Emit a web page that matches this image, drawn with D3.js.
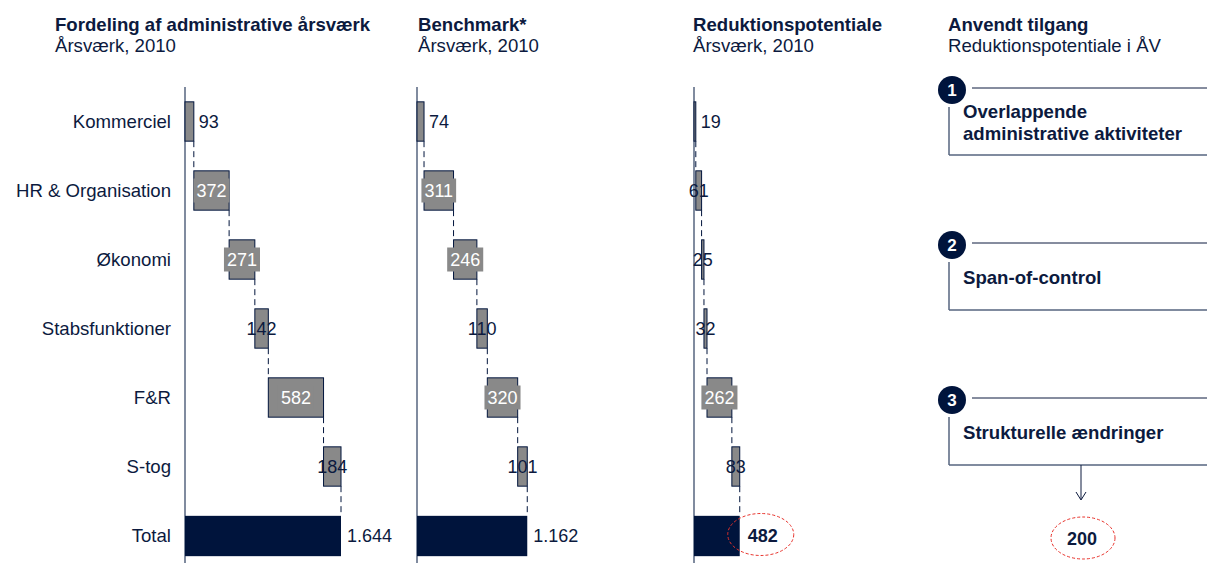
<!DOCTYPE html>
<html><head><meta charset="utf-8">
<script src="https://cdn.jsdelivr.net/npm/d3@7"></script>
<style>body{margin:0;background:#fff;}svg{display:block;font-family:"Liberation Sans",Arial,sans-serif;}</style>
</head><body>
<svg id="c" width="1207" height="563"></svg>
<script>
const categories = ["Kommerciel","HR & Organisation","Økonomi","Stabsfunktioner","F&R","S-tog","Total"];
const fordeling = [93,372,271,142,582,184];
const benchmark = [74,311,246,110,320,101];
const reduktion = [19,61,25,32,262,83];
const panelTitles = ["Fordeling af administrative årsværk","Benchmark*","Reduktionspotentiale","Anvendt tilgang"];
const panelSubtitles = ["Årsværk, 2010","Årsværk, 2010","Årsværk, 2010","Reduktionspotentiale i ÅV"];
const approaches = [["Overlappende","administrative aktiviteter"],["Span-of-control"],["Strukturelle ændringer"]];
const approachTotal = 200;

const NAVY="#00143c", GREY="#898989", TXT="#0c1a3e", AXIS="#56647f";
const FS=18.6, VS=18;
const svg=d3.select("#c");
const fmt=d3.formatLocale({decimal:",",thousands:".",grouping:[3],currency:["","kr"]}).format(",");

const y=d3.scaleBand().domain(categories).range([87,570]).paddingInner(0.43).paddingOuter(0.215);
const x=d3.scaleLinear().domain([0,1644]).range([0,156]);

const panelX=[185,417,694];
const titleX=[55,418,693,948];

// titles
panelTitles.forEach((t,i)=>{
  svg.append("text").attr("x",titleX[i]).attr("y",31).attr("font-size",FS).attr("font-weight","bold").attr("fill",TXT).text(t);
  svg.append("text").attr("x",titleX[i]).attr("y",52).attr("font-size",FS).attr("fill",TXT).text(panelSubtitles[i]);
});

// category labels
svg.append("g").selectAll("text").data(categories).join("text")
  .attr("x",171).attr("y",d=>y(d)+y.bandwidth()/2).attr("dy","0.35em")
  .attr("text-anchor","end").attr("font-size",FS).attr("fill",TXT).text(d=>d);

function panel(vals,x0,idx){
  const g=svg.append("g").attr("transform",`translate(${x0},0)`);
  let cum=0;
  const items=vals.map((v,i)=>{const o={cat:categories[i],v,start:cum,end:cum+v};cum+=v;return o;});
  const total=cum;
  g.append("line").attr("x1",0).attr("x2",0).attr("y1",87).attr("y2",563).attr("stroke",AXIS).attr("stroke-width",1.5);
  items.forEach((d,i)=>{
    const nextTop = i<items.length-1 ? y(items[i+1].cat) : y("Total");
    g.append("line").attr("x1",x(d.end)).attr("x2",x(d.end))
      .attr("y1",y(d.cat)+y.bandwidth()).attr("y2",nextTop)
      .attr("stroke",NAVY).attr("stroke-width",1).attr("stroke-dasharray","6,4");
  });
  g.selectAll("rect.b").data(items).join("rect").attr("class","b")
    .attr("x",d=>x(d.start)).attr("width",d=>x(d.end)-x(d.start))
    .attr("y",d=>y(d.cat)).attr("height",y.bandwidth())
    .attr("fill",GREY).attr("stroke",NAVY).attr("stroke-width",1);
  g.append("rect").attr("x",0).attr("width",x(total)).attr("y",y("Total")).attr("height",y.bandwidth()+1).attr("fill",NAVY);
  items.forEach((d,i)=>{
    const cy=y(d.cat)+y.bandwidth()/2;
    if(i===0){
      g.append("text").attr("x",x(d.end)+5).attr("y",cy).attr("dy","0.35em").attr("font-size",VS).attr("fill",TXT).text(d.v);
    } else if(d.v>200){
      const cx=(x(d.start)+x(d.end))/2;
      const t=g.append("text").attr("x",cx).attr("y",cy).attr("dy","0.35em").attr("text-anchor","middle").attr("font-size",VS).attr("fill","#fff").text(d.v);
      const w=t.node().getComputedTextLength()+6;
      g.insert("rect",()=>t.node()).attr("x",cx-w/2).attr("y",cy-12).attr("width",w).attr("height",24).attr("fill",GREY);
    } else {
      const cx=(x(d.start)+x(d.end))/2;
      g.append("text").attr("x",cx).attr("y",cy).attr("dy","0.35em").attr("text-anchor","middle").attr("font-size",VS).attr("fill",TXT).text(d.v);
    }
  });
  const ty=y("Total")+y.bandwidth()/2;
  if(idx<2){
    g.append("text").attr("x",x(total)+6).attr("y",ty).attr("dy","0.35em").attr("font-size",VS).attr("fill",TXT).text(fmt(total));
  } else {
    const cx=x(total)+21;
    g.append("ellipse").attr("cx",cx).attr("cy",ty-1).attr("rx",33).attr("ry",21).attr("fill","none").attr("stroke","#e8322b").attr("stroke-width",1).attr("stroke-dasharray","3,2");
    g.append("text").attr("x",cx+2).attr("y",ty).attr("dy","0.35em").attr("text-anchor","middle").attr("font-size",VS).attr("font-weight","bold").attr("fill",TXT).text(fmt(total));
  }
}
panel(fordeling,panelX[0],0);
panel(benchmark,panelX[1],1);
panel(reduktion,panelX[2],2);

const boxTop=d3.scaleLinear().domain([0,1]).range([88,243]);
approaches.forEach((lines,i)=>{
  const t=boxTop(i);
  svg.append("line").attr("x1",972).attr("x2",1207).attr("y1",t).attr("y2",t).attr("stroke",TXT).attr("stroke-width",1);
  svg.append("line").attr("x1",949).attr("x2",949).attr("y1",t+19).attr("y2",t+67).attr("stroke",AXIS).attr("stroke-width",1.5);
  svg.append("line").attr("x1",949).attr("x2",1207).attr("y1",t+67).attr("y2",t+67).attr("stroke",AXIS).attr("stroke-width",1.5);
  svg.append("circle").attr("cx",952).attr("cy",t+2).attr("r",14).attr("fill",NAVY);
  svg.append("text").attr("x",952).attr("y",t+2).attr("dy","0.36em").attr("text-anchor","middle").attr("font-size",17).attr("font-weight","bold").attr("fill","#fff").text(i+1);
  const base = lines.length>1 ? t+30 : t+41;
  lines.forEach((l,j)=>{
    svg.append("text").attr("x",963).attr("y",base+j*22).attr("font-size",FS).attr("font-weight","bold").attr("fill",TXT).text(l);
  });
});
const lastBottom=boxTop(2)+67;
svg.append("line").attr("x1",1081).attr("x2",1081).attr("y1",lastBottom).attr("y2",499).attr("stroke",TXT).attr("stroke-width",1);
svg.append("path").attr("d",`M1076,492 L1081,500 L1086,492`).attr("fill","none").attr("stroke",TXT).attr("stroke-width",1);
svg.append("ellipse").attr("cx",1083).attr("cy",538).attr("rx",32).attr("ry",21).attr("fill","none").attr("stroke","#e8322b").attr("stroke-width",1).attr("stroke-dasharray","3,2");
svg.append("text").attr("x",1082).attr("y",539).attr("dy","0.35em").attr("text-anchor","middle").attr("font-size",VS).attr("font-weight","bold").attr("fill",TXT).text(approachTotal);
</script>
</body></html>
